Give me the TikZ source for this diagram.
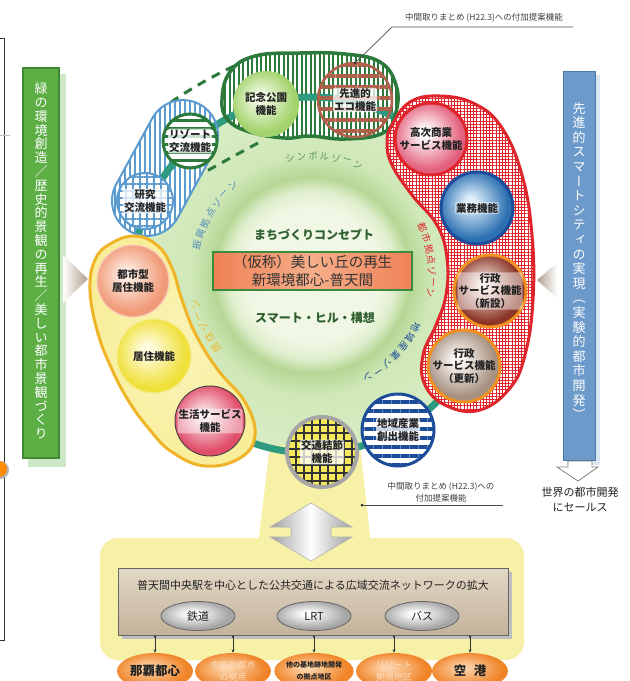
\documentclass[tikz,border=0pt]{standalone}
\usepackage{fontspec}
\setmainfont{Noto Sans CJK JP}
\newfontfamily\vjp[RawFeature=+vert]{Noto Sans CJK JP}
\usetikzlibrary{patterns.meta,arrows.meta,shapes.geometric,calc}

\definecolor{txt}{HTML}{222222}
\definecolor{gbox}{HTML}{5DAF45}
\definecolor{gboxb}{HTML}{3E8A32}
\definecolor{bbox}{HTML}{6C9ACB}
\definecolor{bboxb}{HTML}{4D79A8}
\definecolor{tealr}{HTML}{2E9A80}
\definecolor{gstripe}{HTML}{2B7A3B}
\definecolor{bstripe}{HTML}{5B9BD0}
\definecolor{redb}{HTML}{E0242B}
\definecolor{yelb}{HTML}{F0B429}
\definecolor{yelf}{HTML}{F8EE9A}
\definecolor{yelf2}{HTML}{F6F1A6}
\definecolor{brownb}{HTML}{B0604A}
\definecolor{navy}{HTML}{1C4C9A}
\definecolor{orbox}{HTML}{EF8156}
\definecolor{orboxl}{HTML}{F6AE8A}
\definecolor{concb}{HTML}{3C8A3C}
\definecolor{cgreen}{HTML}{2F5E2F}
\definecolor{cA}{HTML}{F0F7E4}
\definecolor{cB}{HTML}{E0EECD}
\definecolor{cC}{HTML}{B5D795}
\definecolor{cD}{HTML}{D0E8B8}
\definecolor{cE}{HTML}{D8EDC4}
\definecolor{kinI}{HTML}{F4FAE8}\definecolor{kinO}{HTML}{A3D36C}
\definecolor{toI}{HTML}{FDEDE4}\definecolor{toO}{HTML}{F19A78}
\definecolor{kyI}{HTML}{FFFCE0}\definecolor{kyO}{HTML}{EFE03A}
\definecolor{seI}{HTML}{FCE6EA}\definecolor{seO}{HTML}{E04E6A}
\definecolor{koI}{HTML}{FFFFFF}\definecolor{koO}{HTML}{E3607C}
\definecolor{gyI}{HTML}{E0F0FA}\definecolor{gyO}{HTML}{2C70B2}
\definecolor{g1I}{HTML}{F5E6E0}\definecolor{g1O}{HTML}{8B3526}
\definecolor{g2I}{HTML}{FCF9F5}\definecolor{g2O}{HTML}{A69080}
\definecolor{orI}{HTML}{FCD2A8}\definecolor{orO}{HTML}{F08428}
\definecolor{kotsuY}{HTML}{F5E85A}
\definecolor{tan}{HTML}{B0A08C}
\definecolor{boxT}{HTML}{E3D8C6}\definecolor{boxB}{HTML}{C3B29B}
\colorlet{cin}{white}\colorlet{cout}{gray}

% path bounding box corresponds to the central 50bp square (radius 25bp)
\pgfdeclareradialshading{ringsh}{\pgfpoint{0bp}{0bp}}{color(0bp)=(cA);color(9.5bp)=(cA);color(11.8bp)=(cB);color(13.8bp)=(cC);color(17bp)=(cD);color(25bp)=(cE);color(50bp)=(cE)}
\pgfdeclareradialshading[cin,cout]{grad}{\pgfpoint{-5bp}{5bp}}{color(0bp)=(cin);color(3bp)=(cin);color(24bp)=(cout);color(50bp)=(cout)}

\newcommand\lblfont{\fontsize{10.5}{12.5}\selectfont\bfseries}

\tikzset{
  fcirc/.style={circle, inner sep=0pt, minimum size=#1, align=center, text=txt, font=\lblfont},
  gc/.style 2 args={/utils/exec={\colorlet{cin}{#1}\colorlet{cout}{#2}}, shade, shading=grad},
  tl/.style={align=center, text=txt, font=\lblfont, fill=white, fill opacity=0.75, text opacity=1, inner sep=1pt, rounded corners=2pt},
  gl/.style={align=center, text=txt, font=\lblfont, fill=white, fill opacity=0.45, text opacity=1, inner sep=1pt, rounded corners=2pt},
  zone/.style={font=\fontsize{9.5}{11}\selectfont, inner sep=0pt},
  note/.style={font=\fontsize{8.5}{11}\selectfont, text=black!75, inner sep=1pt, align=center},
  conn/.style={black!80, line width=0.7pt, {Circle[length=2.2pt]}-{Stealth[length=3.5pt,width=3pt]}},
  grel/.style={ellipse, minimum width=74pt, minimum height=29pt, inner sep=0pt, draw=black!60, line width=0.8pt, gc={white}{gray!70}, font=\fontsize{11}{13}\selectfont, text=txt},
  orel/.style={ellipse, minimum width=76pt, minimum height=36pt, inner sep=0pt, gc={orI}{orO}, align=center},
}

\newcommand\arclabel[6]{%
  \foreach \ch [count=\i from 0] in {#6}{%
    \pgfmathsetmacro\zang{#2-\i*#3}%
    \pgfmathsetmacro\zrot{\zang-90}%
    \pgfmathsetmacro\zpx{312+#4*cos(\zang)}%
    \pgfmathsetmacro\zpy{275-#4*sin(\zang)}%
    \node[zone, text=#5, rotate=\zrot] (#1\i) at (\zpx,\zpy) {\ch};}}

\begin{document}
\begin{tikzpicture}[x=1pt,y=-1pt]
\useasboundingbox (0,0) rectangle (630,681);
\fill[white] (0,0) rectangle (630,681);

% left page border remnants
\draw[line width=0.8pt, black!80] (0,38) -- (4,38) -- (4,640) -- (0,640);
\draw[black!25] (0,135) -- (10,135);
\fill[gray!60] (0,470) circle (9);
\fill[orange!90!yellow] (-1,469) circle (8);

% green side box
\fill[gbox!30] (28,74) rectangle (66,467);
\node[draw=gboxb, line width=1.5pt, fill=gbox, minimum width=36pt, minimum height=390pt, inner sep=0pt] (gbx) at (41,263) {};
\node[font=\vjp\fontsize{13}{13.8}\selectfont, text=white, align=center, inner sep=0pt] (gtxt) at (41,261)
 {緑\\の\\環\\境\\創\\造\\／\\歴\\史\\的\\景\\観\\の\\再\\生\\／\\美\\し\\い\\都\\市\\景\\観\\づ\\く\\り};

% blue side box
\fill[bbox!25] (567,75) rectangle (600,465);
\node[draw=bboxb, line width=1pt, fill=bbox, minimum width=32pt, minimum height=389pt, inner sep=0pt] (bbx) at (579,265.5) {};
\node[font=\vjp\fontsize{13}{14.6}\selectfont, text=white, align=center, inner sep=0pt] (btxt) at (579,261)
 {先\\進\\的\\ス\\マ\\ー\\ト\\シ\\テ\\ィ\\の\\実\\現\\（\\実\\験\\的\\都\\市\\開\\発\\）};

% side arrows
\shade[left color=white, right color=tan] (63,255) -- (88,279) -- (63,303) -- cycle;
\shade[left color=tan, right color=white] (537,280) -- (557,263) -- (557,298) -- cycle;

% down hollow arrow + text
\draw[gray, fill=white, line width=0.8pt] (568,461) -- (592,461) -- (592,467) -- (598,467) -- (578,481) -- (557,467) -- (568,467) -- cycle;
\node[font=\fontsize{11}{15}\selectfont, text=txt, align=center] (sales) at (580,499.5) {世界の都市開発\\にセールス};

% ring band
\shade[shading=ringsh] (312,275) circle (178);

% dashed symbol-zone outline
\draw[gstripe, line width=3pt, dash pattern=on 9pt off 7pt] (234,66) .. controls (205,80) and (178,96) .. (158,112);
\draw[gstripe, line width=3pt, dash pattern=on 9pt off 7pt] (258,143) .. controls (230,158) and (205,172) .. (180,186);

% blue capsule (fill)
\begin{scope}[shift={(165,168)}, rotate=61.3]
  \path[rounded corners=35pt, preaction={fill=white}, pattern={Lines[angle=90,distance=5pt,line width=2pt]}, pattern color=bstripe] (-72.5,-35) rectangle (72.5,35);
\end{scope}

% green blob (fill)
\path[preaction={fill=white}, pattern={Lines[angle=90,distance=4.5pt,line width=2pt]}, pattern color=gstripe]
  plot[smooth cycle, tension=0.7] coordinates {(222,100) (230,72) (255,56) (300,53) (345,54) (380,62) (396,85) (396,112) (383,133) (345,139) (310,136) (285,138) (250,132) (228,120)};

% yellow funnel and base
\fill[yelf2] (270,445) -- (360,445) -- (371,545) -- (258,545) -- cycle;
\fill[yelf2, rounded corners=18pt] (100,538) rectangle (524,660);

% teal ring
\draw[tealr, line width=7pt] (312,275) circle (178);

% borders of capsule and green blob
\begin{scope}[shift={(165,168)}, rotate=61.3]
  \draw[rounded corners=35pt, bstripe, line width=2pt] (-72.5,-35) rectangle (72.5,35);
\end{scope}
\draw[gstripe, line width=3.5pt]
  plot[smooth cycle, tension=0.7] coordinates {(222,100) (230,72) (255,56) (300,53) (345,54) (380,62) (396,85) (396,112) (383,133) (345,139) (310,136) (285,138) (250,132) (228,120)};

% yellow blob
\shade[inner color=yelf!70!white, outer color=yelf, draw=yelb, line width=3pt]
  plot[smooth cycle, tension=0.7] coordinates {(110,244) (135,236) (158,246) (172,268) (182,300) (196,335) (218,370) (245,402) (255,435) (240,458) (205,466) (172,452) (150,430) (128,400) (110,365) (97,330) (90,290) (95,260)};

% red blob
\path[preaction={fill=white}, pattern={Hatch[distance=3.2pt,line width=0.9pt]}, pattern color=redb]
  plot[smooth cycle, tension=0.7] coordinates {(392,125) (410,102) (440,96) (475,104) (502,128) (522,175) (532,235) (533,300) (525,355) (510,388) (480,410) (447,406) (425,385) (423,355) (436,325) (446,295) (447,258) (437,225) (412,195) (392,165) (387,142)};
\draw[redb, line width=3pt]
  plot[smooth cycle, tension=0.7] coordinates {(392,125) (410,102) (440,96) (475,104) (502,128) (522,175) (532,235) (533,300) (525,355) (510,388) (480,410) (447,406) (425,385) (423,355) (436,325) (446,295) (447,258) (437,225) (412,195) (392,165) (387,142)};

% zone labels
\arclabel{zs}{100.6}{5.55}{119}{gstripe!80!white}{シ,ン,ボ,ル,ゾ,ー,ン}
\arclabel{zt}{23.1}{5.3}{120}{redb}{都,市,拠,点,ゾ,ー,ン}
\arclabel{zc}{-26.6}{5.8}{116}{navy}{地,域,産,業,ゾ,ー,ン}
\arclabel{zk}{217}{5.6}{120}{yelb}{居,住,ゾ,ー,ン}
\arclabel{zf}{165.4}{5.6}{119}{bstripe!90!black}{振,興,拠,点,ゾ,ー,ン}

% function circles
\node[fcirc=66pt, gc={kinI}{kinO}] (kinen) at (266,104) {記念公園\\機能};
\node[fcirc=74pt, draw=brownb, line width=2.5pt, pattern={Lines[angle=0,distance=11pt,line width=3.5pt]}, pattern color=brownb] (eco) at (355,100) {};
\node[tl] (ecoT) at (eco) {先進的\\エコ機能};
\node[fcirc=54pt, draw=gstripe, line width=3pt, preaction={fill=white}, pattern={Lines[angle=0,distance=8pt,line width=3pt]}, pattern color=gstripe] (resort) at (190,141) {};
\node[tl] (resortT) at (resort) {リゾート\\交流機能};
\node[fcirc=56pt, draw=bstripe, line width=2pt, preaction={fill=white}, pattern={Hatch[distance=7pt,line width=1.8pt]}, pattern color=bstripe] (kenkyu) at (145,201) {};
\node[tl] (kenkyuT) at (kenkyu) {研究\\交流機能};
\node[fcirc=72pt, draw=toO!50!white, line width=1.2pt, gc={toI}{toO}] (toshi) at (133,281) {都市型\\居住機能};
\node[fcirc=74pt, draw=kyO!60!white, line width=1.2pt, gc={kyI}{kyO}] (kyoju) at (154,356) {居住機能};
\node[fcirc=70pt, draw=black!75, line width=0.9pt, gc={seI}{seO}] (seikatsu) at (210,421) {};
\node[gl] (seikatsuT) at (seikatsu) {生活サービス\\機能};
\node[fcirc=72pt, draw=redb, line width=3pt, gc={koI}{koO}] (koji) at (431,139) {高次商業\\サービス機能};
\node[fcirc=72pt, draw=navy, line width=3pt, gc={gyI}{gyO}] (gyomu) at (477,208) {};
\node[gl] (gyomuT) at (gyomu) {業務機能};
\node[fcirc=72pt, draw=yelb!80!red, line width=3pt, gc={g1I}{g1O}] (gyosei1) at (490,291) {};
\node[gl] (gyosei1T) at (gyosei1) {行政\\サービス機能\\（新設）};
\node[fcirc=72pt, draw=yelb!80!red, line width=3pt, gc={g2I}{g2O}] (gyosei2) at (464,366) {行政\\サービス機能\\（更新）};
\node[fcirc=72pt, draw=navy, line width=3pt, preaction={fill=white}, pattern={Lines[angle=0,distance=9pt,line width=4.5pt]}, pattern color=navy] (chiiki) at (398,430) {};
\node[tl] (chiikiT) at (chiiki) {地域産業\\創出機能};
\node[fcirc=70pt, draw=gray!70, line width=4pt, preaction={fill=kotsuY}, pattern={Hatch[distance=8pt,line width=1.3pt]}, pattern color=black!80] (kotsu) at (322,452) {};
\node[tl] (kotsuT) at (kotsu) {交通結節\\機能};

% center concept
\node[font=\fontsize{12}{14}\selectfont\bfseries, text=cgreen] (machi) at (314,235) {まちづくりコンセプト};
\node[draw=concb, line width=2pt, left color=orbox, right color=orbox, middle color=orboxl, minimum width=199pt, minimum height=38pt, inner sep=0pt, align=center, font=\fontsize{14.5}{18.5}\selectfont, text=black!80] (concept) at (312.5,271) {（仮称）美しい丘の再生\\新環境都心-普天間};
\node[font=\fontsize{12}{14}\selectfont\bfseries, text=cgreen] (smart) at (315,318) {スマート・ヒル・構想};

% top annotation
\node[note] (note1) at (484,18) {中間取りまとめ (H22.3)への付加提案機能};
\coordinate (note1a) at (392,27);
\coordinate (note1b) at (573,27);
\coordinate (note1end) at (355,63);
\draw[black!70, line width=0.7pt] (note1b) -- (note1a) -- (note1end);
\fill[black!80] (note1end) circle (1.5);

% bottom annotation
\node[note, font=\fontsize{8.5}{12}\selectfont] (note2) at (441,492) {中間取りまとめ (H22.3)への\\付加提案機能};
\coordinate (note2a) at (503,505);
\coordinate (note2end) at (362,505);
\draw[black!70, line width=0.7pt] (note2a) -- (note2end);
\fill[black!80] (note2end) circle (1.5);

% double arrow
\shade[left color=gray!75, right color=gray!75, middle color=white, draw=gray!60, line width=0.6pt]
  (311,503) -- (352,527) -- (331,527) -- (331,537) -- (352,537) -- (311,561) -- (270,537) -- (291,537) -- (291,527) -- (270,527) -- cycle;

% network box
\fill[black!25] (122,572) rectangle (512,639);
\node[draw=black!60, line width=0.8pt, top color=boxT, bottom color=boxB, minimum width=390pt, minimum height=67pt, inner sep=0pt] (netbox) at (313,601.5) {};
\node[font=\fontsize{11}{13}\selectfont, text=txt] (nettxt) at (313,585) {普天間中央駅を中心とした公共交通による広域交流ネットワークの拡大};
\node[grel] (tetsudo) at (198,616) {鉄道};
\node[grel] (lrt) at (314,616) {LRT};
\node[grel] (bus) at (422,616) {バス};

% destination ellipses
\node[orel, font=\fontsize{12.5}{14}\selectfont\bfseries, text=txt] (naha) at (155,671) {那覇都心};
\node[orel, font=\fontsize{9}{12}\selectfont, text=orI!70!white] (chukaku) at (233,671) {中核的都市\\の拠点};
\node[orel, font=\fontsize{7}{12}\selectfont\bfseries, text=txt] (kichi) at (314,671) {他の基地跡地開発\\の拠点地区};
\node[orel, font=\fontsize{9}{12}\selectfont, text=orI!70!white] (resortb) at (394,671) {リゾート\\拠点地区};
\node[orel, font=\fontsize{12.5}{14}\selectfont\bfseries, text=txt] (kuko) at (470,671) {空\hspace{0.6em}港};

\foreach \e in {naha,chukaku,kichi,resortb,kuko}
  \draw[conn] (netbox.south -| \e.north) -- (\e.north);
\end{tikzpicture}
\end{document}
